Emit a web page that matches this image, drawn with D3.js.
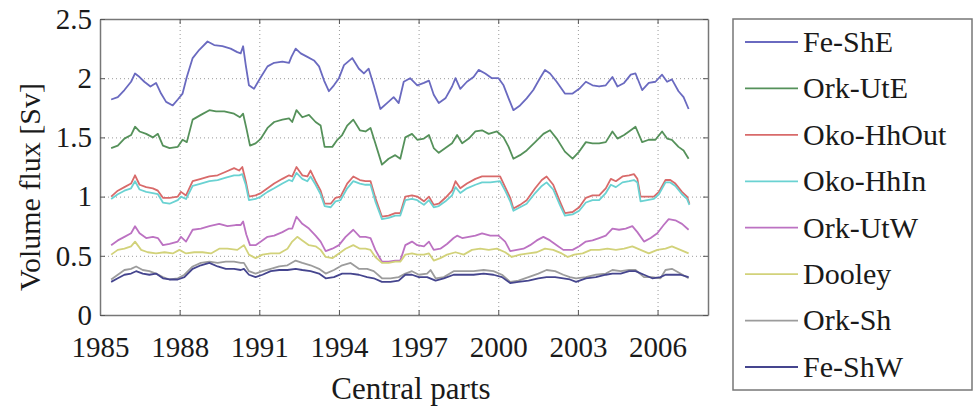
<!DOCTYPE html>
<html>
<head>
<meta charset="utf-8">
<script src="https://cdn.jsdelivr.net/npm/d3@7"></script>
</head>
<body style="margin:0">
<script>
// volume flux series, [year, Sv]
var feShE = [[1985.42,1.82],[1985.67,1.84],[1985.92,1.90],[1986.17,1.97],[1986.32,2.04],[1986.49,2.01],[1986.67,1.97],[1986.90,1.93],[1987.11,1.96],[1987.30,1.87],[1987.49,1.80],[1987.74,1.77],[1987.93,1.82],[1988.11,1.87],[1988.27,2.01],[1988.49,2.17],[1988.74,2.24],[1989.05,2.31],[1989.30,2.28],[1989.61,2.27],[1989.92,2.25],[1990.17,2.22],[1990.30,2.21],[1990.39,2.27],[1990.49,2.11],[1990.61,1.94],[1990.80,1.91],[1991.06,2.01],[1991.31,2.10],[1991.56,2.13],[1991.87,2.14],[1992.12,2.13],[1992.21,2.18],[1992.37,2.25],[1992.56,2.21],[1992.81,2.18],[1993.06,2.15],[1993.25,2.10],[1993.44,1.98],[1993.62,1.89],[1993.81,1.94],[1994.00,2.00],[1994.19,2.11],[1994.50,2.17],[1994.75,2.08],[1994.94,2.04],[1995.12,2.08],[1995.31,1.94],[1995.56,1.74],[1995.81,1.79],[1996.06,1.84],[1996.25,1.79],[1996.44,1.97],[1996.68,2.00],[1996.95,1.94],[1997.20,1.96],[1997.39,1.98],[1997.57,1.86],[1997.76,1.79],[1998.01,1.83],[1998.26,1.93],[1998.39,2.00],[1998.57,1.91],[1998.82,1.97],[1999.07,2.01],[1999.26,2.07],[1999.51,2.04],[1999.76,2.00],[2000.01,2.00],[2000.20,1.94],[2000.39,1.83],[2000.57,1.73],[2000.82,1.77],[2001.07,1.83],[2001.32,1.90],[2001.57,2.00],[2001.76,2.07],[2001.95,2.04],[2002.20,1.97],[2002.51,1.87],[2002.80,1.87],[2003.05,1.91],[2003.30,1.97],[2003.55,1.94],[2003.80,1.93],[2004.05,1.94],[2004.30,2.01],[2004.49,1.93],[2004.74,1.96],[2004.99,2.03],[2005.17,2.04],[2005.42,1.90],[2005.67,1.96],[2005.92,1.97],[2006.17,2.03],[2006.36,1.97],[2006.54,1.99],[2006.79,1.89],[2006.98,1.84],[2007.17,1.74]];
var orkUtE = [[1985.42,1.41],[1985.67,1.43],[1985.92,1.49],[1986.17,1.52],[1986.32,1.59],[1986.49,1.55],[1986.74,1.53],[1986.99,1.50],[1987.18,1.53],[1987.37,1.43],[1987.62,1.41],[1987.93,1.42],[1988.11,1.48],[1988.27,1.46],[1988.49,1.65],[1988.80,1.69],[1989.12,1.73],[1989.37,1.72],[1989.68,1.72],[1990.05,1.70],[1990.27,1.67],[1990.39,1.70],[1990.51,1.58],[1990.65,1.43],[1990.86,1.45],[1991.06,1.49],[1991.31,1.58],[1991.56,1.63],[1991.87,1.65],[1992.12,1.66],[1992.24,1.63],[1992.40,1.73],[1992.62,1.67],[1992.87,1.69],[1993.12,1.63],[1993.31,1.60],[1993.46,1.42],[1993.75,1.42],[1993.94,1.48],[1994.12,1.52],[1994.31,1.60],[1994.54,1.65],[1994.79,1.56],[1995.00,1.55],[1995.19,1.58],[1995.37,1.45],[1995.62,1.27],[1995.87,1.32],[1996.12,1.35],[1996.31,1.32],[1996.50,1.50],[1996.75,1.53],[1996.95,1.48],[1997.20,1.49],[1997.39,1.52],[1997.57,1.41],[1997.76,1.37],[1998.01,1.41],[1998.26,1.45],[1998.45,1.52],[1998.64,1.45],[1998.89,1.49],[1999.14,1.55],[1999.39,1.56],[1999.64,1.53],[1999.95,1.55],[2000.20,1.50],[2000.39,1.42],[2000.57,1.32],[2000.82,1.35],[2001.07,1.39],[2001.39,1.46],[2001.70,1.53],[2001.95,1.56],[2002.20,1.49],[2002.51,1.38],[2002.80,1.32],[2003.05,1.38],[2003.30,1.46],[2003.55,1.45],[2003.80,1.45],[2004.05,1.46],[2004.30,1.55],[2004.49,1.49],[2004.74,1.52],[2004.99,1.56],[2005.17,1.59],[2005.42,1.46],[2005.67,1.48],[2005.92,1.48],[2006.17,1.55],[2006.36,1.49],[2006.54,1.48],[2006.79,1.42],[2006.98,1.39],[2007.17,1.32]];
var okoHhOut = [[1985.42,1.00],[1985.67,1.05],[1985.92,1.08],[1986.17,1.11],[1986.32,1.18],[1986.49,1.10],[1986.74,1.08],[1986.99,1.07],[1987.18,1.05],[1987.37,0.99],[1987.62,0.99],[1987.93,1.00],[1988.05,1.04],[1988.24,1.01],[1988.49,1.13],[1988.80,1.15],[1989.12,1.17],[1989.43,1.18],[1989.74,1.21],[1990.05,1.24],[1990.24,1.22],[1990.36,1.25],[1990.49,1.13],[1990.61,1.00],[1990.86,1.01],[1991.06,1.03],[1991.31,1.07],[1991.56,1.11],[1991.87,1.15],[1992.12,1.18],[1992.24,1.17],[1992.40,1.25],[1992.62,1.18],[1992.81,1.17],[1992.93,1.22],[1993.12,1.13],[1993.31,1.05],[1993.46,0.94],[1993.69,0.94],[1993.87,0.99],[1994.06,1.00],[1994.31,1.11],[1994.54,1.17],[1994.79,1.14],[1995.00,1.13],[1995.19,1.13],[1995.37,0.99],[1995.62,0.83],[1995.87,0.84],[1996.12,0.86],[1996.31,0.86],[1996.50,1.00],[1996.75,1.01],[1996.95,1.00],[1997.20,0.96],[1997.39,1.00],[1997.57,0.93],[1997.76,0.94],[1998.01,0.99],[1998.26,1.05],[1998.39,1.13],[1998.57,1.07],[1998.82,1.11],[1999.14,1.15],[1999.39,1.17],[1999.70,1.17],[2000.07,1.17],[2000.26,1.08],[2000.45,0.99],[2000.57,0.90],[2000.82,0.93],[2001.07,0.97],[2001.39,1.07],[2001.64,1.14],[2001.82,1.17],[2002.07,1.10],[2002.32,0.96],[2002.51,0.86],[2002.80,0.87],[2003.05,0.91],[2003.30,0.99],[2003.55,1.01],[2003.80,1.01],[2004.05,1.07],[2004.24,1.15],[2004.43,1.13],[2004.68,1.17],[2004.93,1.18],[2005.11,1.19],[2005.24,1.15],[2005.36,1.00],[2005.61,1.00],[2005.86,1.00],[2006.05,1.04],[2006.30,1.14],[2006.48,1.14],[2006.67,1.11],[2006.92,1.04],[2007.11,1.00],[2007.20,0.94]];
var okoHhIn = [[1985.42,0.98],[1985.67,1.02],[1985.92,1.05],[1986.17,1.07],[1986.32,1.13],[1986.49,1.06],[1986.74,1.04],[1986.99,1.03],[1987.18,1.02],[1987.37,0.95],[1987.62,0.94],[1987.93,0.97],[1988.05,1.00],[1988.24,0.98],[1988.49,1.09],[1988.80,1.11],[1989.12,1.13],[1989.43,1.14],[1989.74,1.16],[1990.05,1.18],[1990.24,1.18],[1990.36,1.19],[1990.49,1.10],[1990.61,0.97],[1990.86,0.98],[1991.06,1.00],[1991.31,1.04],[1991.56,1.07],[1991.87,1.11],[1992.12,1.14],[1992.24,1.13],[1992.40,1.20],[1992.62,1.15],[1992.81,1.13],[1992.93,1.17],[1993.12,1.10],[1993.31,1.02],[1993.46,0.92],[1993.69,0.91],[1993.87,0.96],[1994.06,0.97],[1994.31,1.07],[1994.54,1.13],[1994.79,1.11],[1995.00,1.10],[1995.19,1.10],[1995.37,0.96],[1995.62,0.81],[1995.87,0.82],[1996.12,0.84],[1996.31,0.84],[1996.50,0.97],[1996.75,0.98],[1996.95,0.97],[1997.20,0.93],[1997.39,0.97],[1997.57,0.91],[1997.76,0.92],[1998.01,0.96],[1998.26,1.01],[1998.39,1.08],[1998.57,1.03],[1998.82,1.07],[1999.14,1.10],[1999.39,1.12],[1999.70,1.12],[2000.07,1.13],[2000.26,1.05],[2000.45,0.96],[2000.57,0.88],[2000.82,0.91],[2001.07,0.94],[2001.39,1.03],[2001.64,1.09],[2001.82,1.12],[2002.07,1.06],[2002.32,0.93],[2002.51,0.84],[2002.80,0.85],[2003.05,0.88],[2003.30,0.95],[2003.55,0.97],[2003.80,0.97],[2004.05,1.03],[2004.24,1.10],[2004.43,1.08],[2004.68,1.12],[2004.93,1.13],[2005.11,1.14],[2005.24,1.12],[2005.36,0.96],[2005.61,0.97],[2005.86,0.98],[2006.05,1.02],[2006.30,1.12],[2006.48,1.12],[2006.67,1.09],[2006.92,1.02],[2007.11,0.98],[2007.20,0.93]];
var orkUtW = [[1985.42,0.59],[1985.67,0.63],[1985.92,0.66],[1986.17,0.69],[1986.32,0.75],[1986.49,0.69],[1986.74,0.65],[1986.99,0.66],[1987.18,0.65],[1987.37,0.59],[1987.62,0.60],[1987.93,0.62],[1988.05,0.66],[1988.24,0.62],[1988.49,0.72],[1988.80,0.73],[1989.12,0.75],[1989.49,0.77],[1989.80,0.75],[1990.11,0.76],[1990.30,0.76],[1990.39,0.79],[1990.51,0.68],[1990.65,0.59],[1990.86,0.59],[1991.06,0.62],[1991.31,0.66],[1991.56,0.67],[1991.87,0.70],[1992.12,0.73],[1992.24,0.73],[1992.40,0.83],[1992.62,0.77],[1992.87,0.73],[1993.12,0.67],[1993.31,0.62],[1993.50,0.54],[1993.75,0.56],[1994.00,0.59],[1994.25,0.66],[1994.54,0.72],[1994.79,0.66],[1995.00,0.66],[1995.19,0.65],[1995.37,0.55],[1995.62,0.45],[1995.87,0.45],[1996.12,0.46],[1996.31,0.46],[1996.50,0.59],[1996.75,0.62],[1996.95,0.59],[1997.20,0.58],[1997.39,0.62],[1997.57,0.55],[1997.82,0.56],[1998.07,0.60],[1998.32,0.65],[1998.45,0.67],[1998.64,0.65],[1998.89,0.66],[1999.14,0.67],[1999.39,0.69],[1999.70,0.67],[2000.01,0.67],[2000.26,0.62],[2000.45,0.54],[2000.70,0.55],[2000.95,0.56],[2001.20,0.59],[2001.45,0.63],[2001.70,0.66],[2001.95,0.63],[2002.20,0.59],[2002.45,0.55],[2002.80,0.55],[2003.05,0.58],[2003.30,0.62],[2003.55,0.63],[2003.80,0.65],[2004.05,0.67],[2004.30,0.73],[2004.55,0.72],[2004.80,0.73],[2005.05,0.75],[2005.24,0.70],[2005.49,0.62],[2005.74,0.65],[2005.99,0.69],[2006.23,0.76],[2006.42,0.81],[2006.67,0.80],[2006.92,0.77],[2007.17,0.72]];
var dooley = [[1985.42,0.51],[1985.67,0.55],[1985.92,0.56],[1986.17,0.58],[1986.32,0.62],[1986.55,0.55],[1986.80,0.53],[1987.11,0.52],[1987.43,0.53],[1987.74,0.52],[1987.99,0.55],[1988.24,0.52],[1988.55,0.53],[1988.86,0.53],[1989.18,0.52],[1989.49,0.56],[1989.80,0.56],[1990.17,0.55],[1990.42,0.59],[1990.61,0.51],[1990.86,0.48],[1991.12,0.51],[1991.43,0.52],[1991.75,0.52],[1992.06,0.56],[1992.24,0.62],[1992.43,0.66],[1992.62,0.63],[1992.87,0.59],[1993.12,0.58],[1993.31,0.55],[1993.50,0.49],[1993.75,0.48],[1994.00,0.52],[1994.25,0.56],[1994.54,0.59],[1994.79,0.56],[1995.00,0.56],[1995.19,0.55],[1995.37,0.49],[1995.62,0.44],[1995.87,0.44],[1996.12,0.45],[1996.31,0.45],[1996.50,0.51],[1996.75,0.52],[1996.95,0.51],[1997.20,0.51],[1997.39,0.52],[1997.57,0.46],[1997.82,0.48],[1998.07,0.51],[1998.39,0.53],[1998.70,0.51],[1999.01,0.55],[1999.32,0.56],[1999.64,0.55],[1999.95,0.56],[2000.26,0.53],[2000.51,0.49],[2000.82,0.51],[2001.14,0.52],[2001.45,0.53],[2001.76,0.56],[2002.07,0.55],[2002.39,0.52],[2002.62,0.49],[2002.86,0.51],[2003.18,0.52],[2003.49,0.55],[2003.80,0.55],[2004.11,0.56],[2004.43,0.55],[2004.74,0.56],[2005.05,0.58],[2005.36,0.55],[2005.67,0.52],[2005.99,0.55],[2006.30,0.56],[2006.54,0.58],[2006.86,0.55],[2007.17,0.52]];
var orkSh = [[1985.42,0.30],[1985.67,0.34],[1985.92,0.38],[1986.17,0.39],[1986.36,0.41],[1986.61,0.38],[1986.86,0.37],[1987.11,0.35],[1987.37,0.32],[1987.62,0.30],[1987.93,0.31],[1988.18,0.34],[1988.49,0.41],[1988.80,0.44],[1989.12,0.45],[1989.43,0.44],[1989.74,0.45],[1990.05,0.45],[1990.30,0.44],[1990.42,0.44],[1990.61,0.37],[1990.86,0.35],[1991.12,0.37],[1991.43,0.39],[1991.75,0.41],[1992.06,0.42],[1992.37,0.46],[1992.62,0.44],[1992.93,0.42],[1993.25,0.39],[1993.50,0.35],[1993.81,0.38],[1994.12,0.42],[1994.44,0.44],[1994.75,0.39],[1995.06,0.39],[1995.31,0.37],[1995.62,0.31],[1995.94,0.31],[1996.25,0.32],[1996.50,0.35],[1996.75,0.37],[1997.01,0.34],[1997.32,0.35],[1997.45,0.38],[1997.64,0.31],[1997.95,0.32],[1998.32,0.37],[1998.70,0.37],[1999.07,0.37],[1999.45,0.38],[1999.82,0.37],[2000.14,0.34],[2000.45,0.28],[2000.76,0.29],[2001.14,0.32],[2001.51,0.35],[2001.82,0.38],[2002.14,0.37],[2002.45,0.34],[2002.70,0.32],[2002.93,0.31],[2003.30,0.32],[2003.68,0.34],[2004.05,0.35],[2004.30,0.38],[2004.61,0.37],[2004.93,0.38],[2005.17,0.38],[2005.49,0.32],[2005.80,0.32],[2006.11,0.31],[2006.30,0.38],[2006.54,0.39],[2006.86,0.35],[2007.17,0.31]];
var feShW = [[1985.42,0.28],[1985.67,0.31],[1985.92,0.34],[1986.17,0.35],[1986.36,0.37],[1986.61,0.35],[1986.86,0.34],[1987.11,0.35],[1987.37,0.31],[1987.62,0.30],[1987.93,0.30],[1988.18,0.32],[1988.49,0.39],[1988.80,0.42],[1989.12,0.44],[1989.43,0.41],[1989.74,0.39],[1990.05,0.39],[1990.30,0.38],[1990.42,0.39],[1990.61,0.34],[1990.86,0.32],[1991.12,0.34],[1991.43,0.37],[1991.75,0.38],[1992.06,0.38],[1992.37,0.39],[1992.62,0.38],[1992.93,0.37],[1993.25,0.35],[1993.50,0.31],[1993.81,0.32],[1994.12,0.35],[1994.44,0.35],[1994.75,0.34],[1995.06,0.32],[1995.31,0.31],[1995.62,0.28],[1995.94,0.28],[1996.25,0.29],[1996.50,0.34],[1996.75,0.34],[1997.01,0.32],[1997.32,0.32],[1997.64,0.29],[1997.95,0.31],[1998.32,0.34],[1998.70,0.34],[1999.07,0.34],[1999.45,0.35],[1999.82,0.34],[2000.14,0.32],[2000.45,0.27],[2000.76,0.28],[2001.14,0.29],[2001.51,0.31],[2001.82,0.32],[2002.14,0.32],[2002.45,0.31],[2002.70,0.30],[2002.93,0.28],[2003.30,0.31],[2003.68,0.32],[2004.05,0.34],[2004.30,0.35],[2004.61,0.35],[2004.93,0.37],[2005.17,0.37],[2005.49,0.34],[2005.80,0.31],[2006.11,0.32],[2006.30,0.34],[2006.54,0.34],[2006.86,0.34],[2007.17,0.32]];

var seriesNames = ['Fe-ShE', 'Ork-UtE', 'Oko-HhOut', 'Oko-HhIn', 'Ork-UtW', 'Dooley', 'Ork-Sh', 'Fe-ShW'];
var seriesData = [feShE, orkUtE, okoHhOut, okoHhIn, orkUtW, dooley, orkSh, feShW];
var colors = ['#6a6ac0', '#55915a', '#d86a6a', '#6ad2d2', '#bc72c2', '#d2d27a', '#9c9c9c', '#45458e'];

var xTicks = [1985, 1988, 1991, 1994, 1997, 2000, 2003, 2006];
var yTicks = [0, 0.5, 1, 1.5, 2, 2.5];

// svg space
var fullWidth = 977, fullHeight = 412;
var margin = {top: 19, right: 269, bottom: 97, left: 100};
var width = fullWidth - margin.left - margin.right;
var height = fullHeight - margin.top - margin.bottom;

var x = d3.scaleLinear().domain([1985, 2007.9]).range([0, width]);
var y = d3.scaleLinear().domain([0, 2.5]).range([height, 0]);

var svg = d3.select('body').append('svg')
  .attr('width', fullWidth)
  .attr('height', fullHeight);

var g = svg.append('g')
  .attr('transform', 'translate(' + margin.left + ',' + margin.top + ')');

// dotted grid
g.append('g')
  .attr('transform', 'translate(0,' + height + ')')
  .call(d3.axisBottom(x).tickValues(xTicks).tickSize(-height).tickFormat(''))
  .call(function(s) { s.select('.domain').remove(); })
  .selectAll('line').attr('stroke', '#9a9a9a').attr('stroke-dasharray', '1,3');
g.append('g')
  .call(d3.axisLeft(y).tickValues(yTicks).tickSize(-width).tickFormat(''))
  .call(function(s) { s.select('.domain').remove(); })
  .selectAll('line').attr('stroke', '#9a9a9a').attr('stroke-dasharray', '1,3');

// lines
var line = d3.line()
  .x(function(d) { return x(d[0]); })
  .y(function(d) { return y(d[1]); });

g.selectAll('.series')
  .data(seriesData)
  .enter().append('path')
  .attr('class', 'series')
  .attr('fill', 'none')
  .attr('stroke', function(d, i) { return colors[i]; })
  .attr('stroke-width', 1.8)
  .attr('stroke-linejoin', 'round')
  .attr('d', line);

// axes, ticks pointing inward on all sides
function styleAxis(s) {
  s.attr('font-family', 'Liberation Serif').attr('font-size', 29);
  s.select('.domain').attr('stroke', '#777').attr('stroke-width', 1.5);
  s.selectAll('.tick line').attr('stroke', '#555');
  s.selectAll('.tick text')
    .style('font-family', '"Liberation Serif"')
    .style('font-size', '29px')
    .attr('fill', '#1a1a1a');
}

g.append('g')
  .attr('transform', 'translate(0,' + height + ')')
  .call(d3.axisBottom(x).tickValues(xTicks).tickFormat(d3.format('d')).tickSizeInner(-5).tickSizeOuter(0).tickPadding(21))
  .call(styleAxis);
g.append('g')
  .call(d3.axisTop(x).tickValues(xTicks).tickFormat('').tickSizeInner(-5).tickSizeOuter(0))
  .call(styleAxis);
g.append('g')
  .call(d3.axisLeft(y).tickValues(yTicks).tickFormat(d3.format('')).tickSizeInner(-5).tickSizeOuter(0).tickPadding(8))
  .call(styleAxis);
g.append('g')
  .attr('transform', 'translate(' + width + ',0)')
  .call(d3.axisRight(y).tickValues(yTicks).tickFormat('').tickSizeInner(-5).tickSizeOuter(0))
  .call(styleAxis);

// axis titles
svg.append('text')
  .attr('x', 411)
  .attr('y', 399)
  .attr('text-anchor', 'middle')
  .attr('fill', '#1a1a1a')
  .style('font-family', '"Liberation Serif"')
  .style('font-size', '31px')
  .text('Central parts');

svg.append('text')
  .attr('transform', 'translate(40,' + (margin.top + height / 2 + 20) + ') rotate(-90)')
  .attr('text-anchor', 'middle')
  .attr('fill', '#1a1a1a')
  .style('font-family', '"Liberation Serif"')
  .style('font-size', '30px')
  .text('Volume flux [Sv]');

// legend
var legend = svg.append('g').attr('transform', 'translate(733,19)');
legend.append('rect')
  .attr('width', 239)
  .attr('height', 371)
  .attr('fill', '#fff')
  .attr('stroke', '#777')
  .attr('stroke-width', 1.5);

var ly = d3.scalePoint().domain(seriesNames).range([23, 348]);

var item = legend.selectAll('.item')
  .data(seriesNames)
  .enter().append('g')
  .attr('class', 'item')
  .attr('transform', function(d) { return 'translate(0,' + ly(d) + ')'; });
item.append('line')
  .attr('x1', 12).attr('x2', 65)
  .attr('stroke', function(d, i) { return colors[i]; })
  .attr('stroke-width', 1.8);
item.append('text')
  .attr('x', 70)
  .attr('dy', '0.33em')
  .attr('fill', '#1a1a1a')
  .style('font-family', '"Liberation Serif"')
  .style('font-size', '30px')
  .text(function(d) { return d; });
</script>
</body>
</html>
